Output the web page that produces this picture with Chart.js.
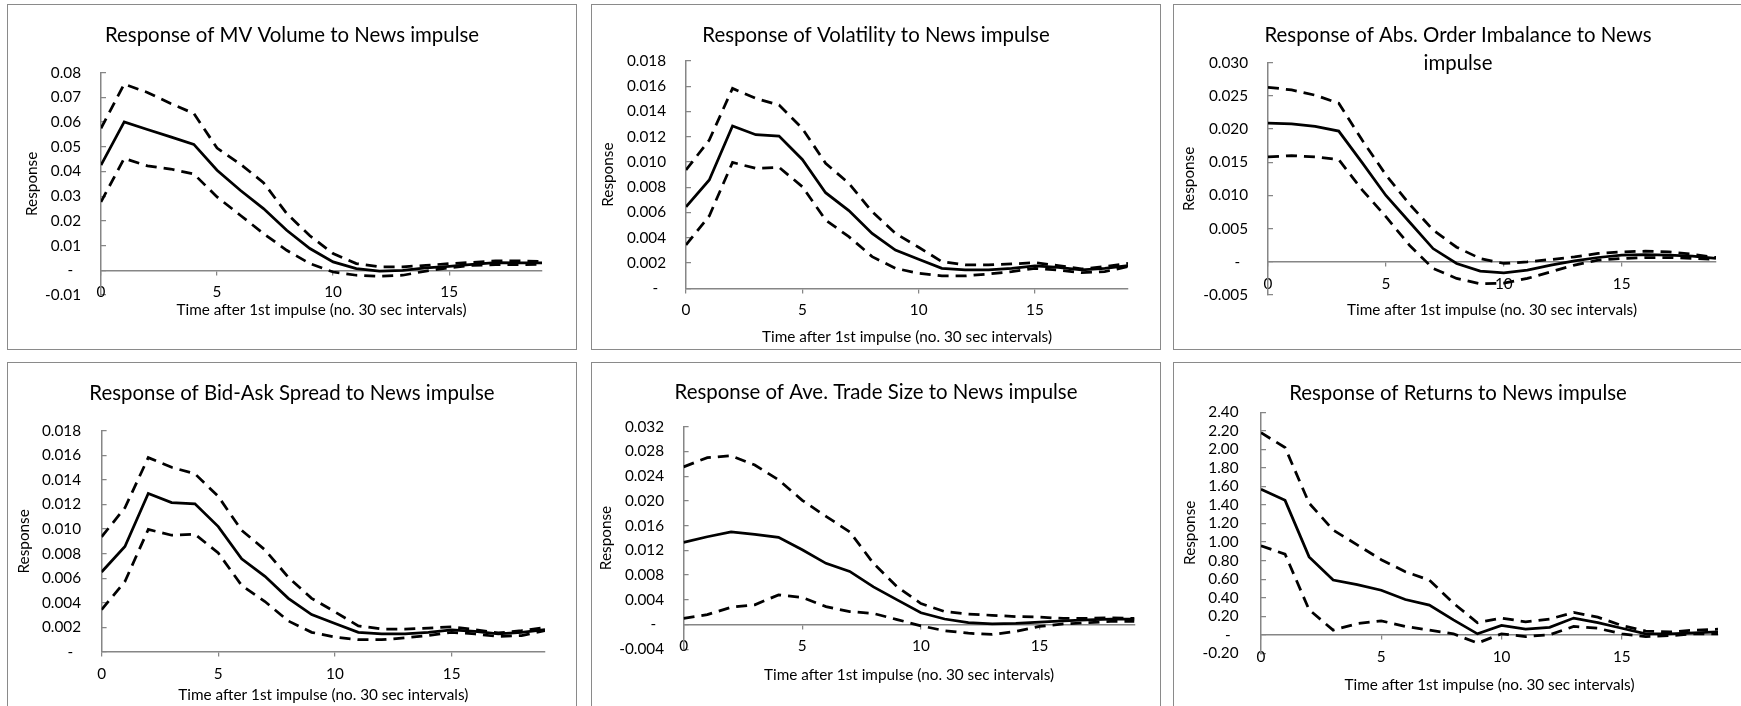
<!DOCTYPE html>
<html>
<head>
<meta charset="utf-8">
<title>Responses to News impulse</title>
<script src="https://cdn.jsdelivr.net/npm/chart.js@4.4.1/dist/chart.umd.min.js"></script>
<style>
  body { margin: 0; background: #fff; width: 1741px; height: 706px; overflow: hidden; position: relative; }
  .panel { position: absolute; box-sizing: border-box; width: 570px; height: 346px; border: 1px solid #8a8a8a; background: #fff; }
  .panel canvas { display: block; }
</style>
</head>
<body>
<div class="panel" style="left:7px;top:4px"><canvas id="volumeChart" width="568" height="344"></canvas></div>
<div class="panel" style="left:591px;top:4px"><canvas id="volatilityChart" width="568" height="344"></canvas></div>
<div class="panel" style="left:1173px;top:4px"><canvas id="imbalanceChart" width="568" height="344"></canvas></div>
<div class="panel" style="left:7px;top:362px"><canvas id="spreadChart" width="568" height="344"></canvas></div>
<div class="panel" style="left:591px;top:362px"><canvas id="tradeSizeChart" width="568" height="344"></canvas></div>
<div class="panel" style="left:1173px;top:362px"><canvas id="returnsChart" width="568" height="344"></canvas></div>

<script>
const times = [0, 1, 2, 3, 4, 5, 6, 7, 8, 9, 10, 11, 12, 13, 14, 15, 16, 17, 18, 19];
const xTicks = [0, 5, 10, 15];

// MV volume
const volumeMid   = [0.0426, 0.0601, 0.0570, 0.0540, 0.0510, 0.0405, 0.0324, 0.0250, 0.0162, 0.0088, 0.0034, 0.0007, -0.0003, 0.0000, 0.0010, 0.0016, 0.0024, 0.0031, 0.0030, 0.0030];
const volumeUpper = [0.0575, 0.0754, 0.0720, 0.0675, 0.0635, 0.0495, 0.0430, 0.0355, 0.0230, 0.0140, 0.0068, 0.0027, 0.0014, 0.0014, 0.0020, 0.0027, 0.0032, 0.0038, 0.0038, 0.0036];
const volumeLower = [0.0277, 0.0453, 0.0423, 0.0410, 0.0390, 0.0297, 0.0223, 0.0149, 0.0081, 0.0027, -0.0007, -0.0020, -0.0024, -0.0020, -0.0003, 0.0010, 0.0020, 0.0023, 0.0023, 0.0024];
const volumeTicks = [-0.01, 0, 0.01, 0.02, 0.03, 0.04, 0.05, 0.06, 0.07, 0.08];

// volatility
const volatilityMid   = [0.00646, 0.00858, 0.01285, 0.01216, 0.01206, 0.01020, 0.00757, 0.00615, 0.00435, 0.00303, 0.00230, 0.00158, 0.00145, 0.00145, 0.00158, 0.00177, 0.00166, 0.00145, 0.00158, 0.00180];
const volatilityUpper = [0.00937, 0.01174, 0.01583, 0.01504, 0.01451, 0.01266, 0.00990, 0.00831, 0.00607, 0.00435, 0.00325, 0.00211, 0.00185, 0.00185, 0.00193, 0.00203, 0.00180, 0.00153, 0.00172, 0.00198];
const volatilityLower = [0.00343, 0.00573, 0.00997, 0.00950, 0.00958, 0.00805, 0.00541, 0.00409, 0.00251, 0.00158, 0.00119, 0.00098, 0.00098, 0.00113, 0.00132, 0.00158, 0.00145, 0.00124, 0.00132, 0.00172];
const volatilityTicks = [0, 0.002, 0.004, 0.006, 0.008, 0.010, 0.012, 0.014, 0.016, 0.018];

// abs. order imbalance
const imbalanceMid   = [0.0209, 0.0208, 0.0204, 0.0197, 0.0149, 0.0100, 0.0060, 0.0020, -0.00025, -0.0014, -0.00166, -0.00126, -0.0005, 0.00015, 0.00065, 0.0010, 0.0011, 0.0010, 0.00085, 0.0005];
const imbalanceUpper = [0.0263, 0.0259, 0.0251, 0.0239, 0.0183, 0.0131, 0.0087, 0.0048, 0.0022, 0.0005, -0.00025, 0.0000, 0.00035, 0.00075, 0.00126, 0.0015, 0.0016, 0.0015, 0.00115, 0.00065];
const imbalanceLower = [0.0158, 0.0160, 0.0158, 0.0154, 0.0108, 0.0068, 0.0025, -0.0010, -0.0025, -0.0033, -0.0032, -0.0025, -0.0015, -0.0005, 0.00025, 0.0005, 0.00065, 0.00065, 0.0005, 0.00035];
const imbalanceTicks = [-0.005, 0, 0.005, 0.010, 0.015, 0.020, 0.025, 0.030];

// bid-ask spread
const spreadMid   = [0.00650, 0.00858, 0.01290, 0.01216, 0.01206, 0.01020, 0.00757, 0.00615, 0.00435, 0.00303, 0.00230, 0.00158, 0.00145, 0.00145, 0.00158, 0.00177, 0.00166, 0.00145, 0.00158, 0.00180];
const spreadUpper = [0.00937, 0.01174, 0.01583, 0.01504, 0.01451, 0.01266, 0.00990, 0.00831, 0.00607, 0.00435, 0.00325, 0.00211, 0.00185, 0.00185, 0.00193, 0.00203, 0.00180, 0.00153, 0.00172, 0.00198];
const spreadLower = [0.00343, 0.00573, 0.00997, 0.00950, 0.00958, 0.00805, 0.00541, 0.00409, 0.00251, 0.00158, 0.00119, 0.00098, 0.00098, 0.00113, 0.00132, 0.00158, 0.00145, 0.00124, 0.00132, 0.00172];
const spreadTicks = [0, 0.002, 0.004, 0.006, 0.008, 0.010, 0.012, 0.014, 0.016, 0.018];

// ave. trade size
const tradeSizeMid   = [0.0133, 0.0142, 0.0150, 0.0146, 0.0141, 0.0121, 0.0099, 0.0086, 0.0061, 0.0040, 0.0019, 0.0009, 0.0003, 0.0001, 0.0002, 0.0004, 0.0006, 0.00075, 0.00086, 0.00086];
const tradeSizeUpper = [0.0255, 0.0270, 0.0273, 0.0258, 0.0234, 0.0201, 0.0175, 0.0150, 0.0099, 0.0061, 0.0034, 0.0021, 0.0017, 0.0015, 0.0013, 0.0012, 0.0010, 0.0010, 0.0011, 0.0010];
const tradeSizeLower = [0.0010, 0.0016, 0.0028, 0.0032, 0.0048, 0.0044, 0.0029, 0.0021, 0.0018, 0.0008, -0.0002, -0.0010, -0.0014, -0.0016, -0.0011, -0.0003, 0.0001, 0.0003, 0.0005, 0.0005];
const tradeSizeTicks = [-0.004, 0, 0.004, 0.008, 0.012, 0.016, 0.020, 0.024, 0.028, 0.032];

// returns
const returnsMid   = [1.57, 1.45, 0.84, 0.59, 0.54, 0.48, 0.38, 0.32, 0.16, 0.01, 0.10, 0.06, 0.08, 0.18, 0.13, 0.07, 0.01, 0.01, 0.02, 0.03];
const returnsUpper = [2.18, 2.02, 1.42, 1.13, 0.97, 0.81, 0.68, 0.59, 0.34, 0.13, 0.18, 0.14, 0.17, 0.24, 0.19, 0.10, 0.04, 0.03, 0.05, 0.06];
const returnsLower = [0.96, 0.87, 0.27, 0.05, 0.12, 0.15, 0.09, 0.05, 0.01, -0.09, 0.01, -0.02, 0.00, 0.09, 0.07, 0.01, -0.02, -0.01, 0.01, 0.01];
const returnsTicks = [-0.2, 0, 0.2, 0.4, 0.6, 0.8, 1.0, 1.2, 1.4, 1.6, 1.8, 2.0, 2.2, 2.4];

const xTitle = 'Time after 1st impulse (no. 30 sec intervals)';
const axisGrey = '#868686';
const axisFont = 15.3;
const halfLine = axisFont * 1.2 / 2;

Chart.defaults.font.family = "Lato, 'Open Sans', sans-serif";
Chart.defaults.font.size = axisFont;
Chart.defaults.color = '#000';

// placement of each plot inside its box (canvas px)
const boxes = {
  volume:     {side: 34,   bottom: 54,   titleTop: 16,   titleBottom: 23.7,  yWidth: 59,   labelPad: 25,   yTitleX: 24,   xTitleGap: 40},
  volatility: {side: 32,   bottom: 60.7, titleTop: 16,   titleBottom: 12,    yWidth: 62,   labelPad: 25,   yTitleX: 16,   xTitleGap: 48.4},
  imbalance:  {side: 26,   bottom: 54,   titleTop: 16,   titleBottom: -14.3, yWidth: 68,   labelPad: 25,   yTitleX: 15,   xTitleGap: 48.3},
  spread:     {side: 31,   bottom: 55.3, titleTop: 16.3, titleBottom: 23.7,  yWidth: 62.6, labelPad: 25.6, yTitleX: 16.5, xTitleGap: 43.3},
  tradeSize:  {side: 25.5, bottom: 57.7, titleTop: 15.7, titleBottom: 20,    yWidth: 66.1, labelPad: 24.6, yTitleX: 13.7, xTitleGap: 50.3},
  returns:    {side: 24,   bottom: 53.7, titleTop: 16,   titleBottom: 5.3,   yWidth: 63,   labelPad: 27.5, yTitleX: 16,   xTitleGap: 50.3}
};

function tickFormat(decimals) {
  return v => Math.abs(v) < 1e-9 ? '-  ' : v.toFixed(decimals);
}

function impulseChart(id, title, mid, upper, lower, yTicks, decimals, box) {
  const points = arr => arr.map((v, i) => ({x: times[i], y: v}));
  const line = {borderColor: '#000', borderWidth: 2.75, pointRadius: 0, tension: 0, fill: false};
  const dashed = Object.assign({}, line, {borderDash: [11, 7]});

  new Chart(document.getElementById(id), {
    type: 'line',
    data: {
      datasets: [
        Object.assign({label: 'Upper', data: points(upper)}, dashed),
        Object.assign({label: 'Response', data: points(mid)}, line),
        Object.assign({label: 'Lower', data: points(lower)}, dashed)
      ]
    },
    options: {
      responsive: false,
      animation: false,
      events: [],
      layout: {padding: {left: box.side, right: box.side, top: 0, bottom: box.bottom}},
      plugins: {
        legend: {display: false},
        tooltip: {enabled: false},
        title: {
          display: true,
          text: title,
          color: '#000',
          font: {size: 20.4, weight: 'normal', lineHeight: 28 / 20.4},
          padding: {top: box.titleTop, bottom: box.titleBottom}
        }
      },
      scales: {
        x: {
          type: 'linear',
          position: {y: 0},
          min: 0,
          max: 19,
          afterBuildTicks: s => { s.ticks = xTicks.map(v => ({value: v})); },
          afterFit: s => { s.height = box.xTitleGap + halfLine; },
          ticks: {autoSkip: false, maxRotation: 0, padding: 22 - 4 - halfLine},
          grid: {drawOnChartArea: false, tickLength: 4, color: axisGrey, lineWidth: 1.25},
          border: {color: axisGrey, width: 1.5},
          title: {display: true, text: xTitle, color: '#000', padding: 0}
        },
        y: {
          type: 'linear',
          min: yTicks[0],
          max: yTicks[yTicks.length - 1],
          afterBuildTicks: s => { s.ticks = yTicks.map(v => ({value: v})); },
          afterFit: s => { s.width = box.yWidth; },
          ticks: {autoSkip: false, padding: box.labelPad, callback: tickFormat(decimals)},
          grid: {drawOnChartArea: false, tickLength: -5, color: axisGrey, lineWidth: 1.25},
          border: {color: axisGrey, width: 1.5},
          title: {display: true, text: 'Response', color: '#000', padding: {top: box.yTitleX - box.side - halfLine, bottom: 0}}
        }
      }
    }
  });
}

document.fonts.load('20px Lato').then(() => {
  impulseChart('volumeChart', 'Response of MV Volume to News impulse',
    volumeMid, volumeUpper, volumeLower, volumeTicks, 2, boxes.volume);
  impulseChart('volatilityChart', 'Response of Volatility to News impulse',
    volatilityMid, volatilityUpper, volatilityLower, volatilityTicks, 3, boxes.volatility);
  impulseChart('imbalanceChart', ['Response of Abs. Order Imbalance to News', 'impulse'],
    imbalanceMid, imbalanceUpper, imbalanceLower, imbalanceTicks, 3, boxes.imbalance);
  impulseChart('spreadChart', 'Response of Bid-Ask Spread to News impulse',
    spreadMid, spreadUpper, spreadLower, spreadTicks, 3, boxes.spread);
  impulseChart('tradeSizeChart', 'Response of Ave. Trade Size to News impulse',
    tradeSizeMid, tradeSizeUpper, tradeSizeLower, tradeSizeTicks, 3, boxes.tradeSize);
  impulseChart('returnsChart', 'Response of Returns to News impulse',
    returnsMid, returnsUpper, returnsLower, returnsTicks, 2, boxes.returns);
});
</script>
</body>
</html>
